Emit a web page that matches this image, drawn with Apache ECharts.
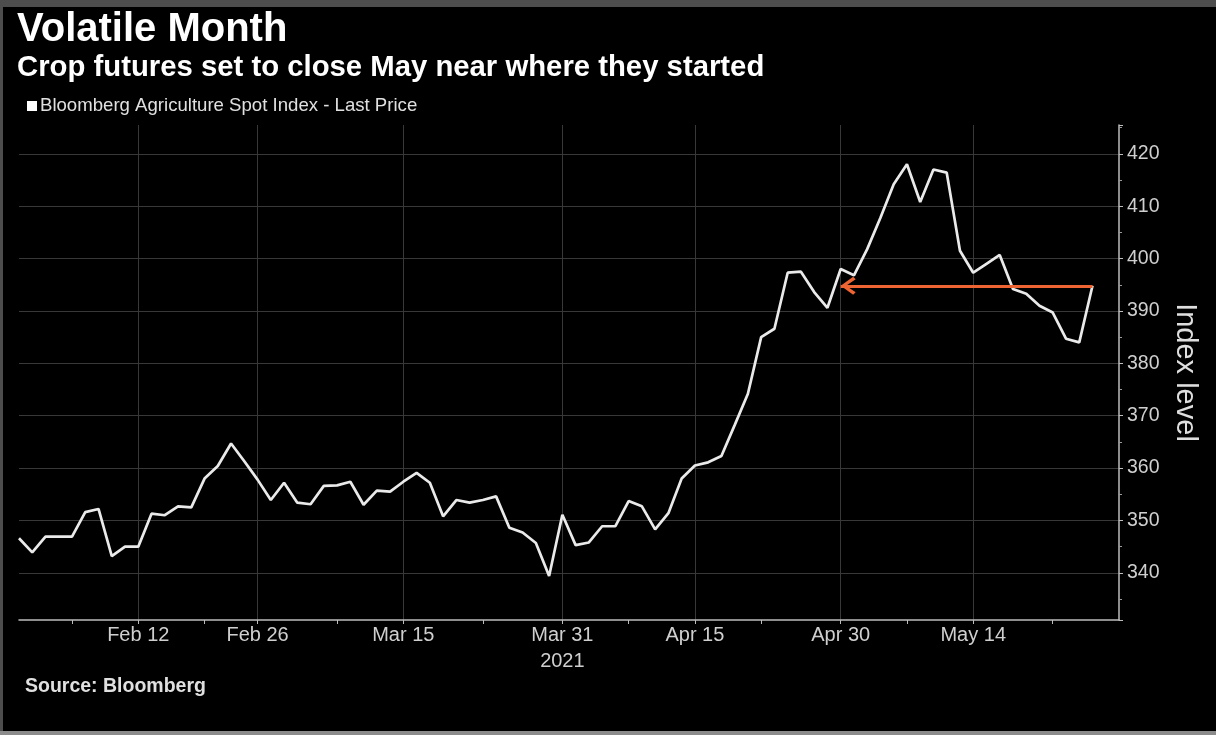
<!DOCTYPE html>
<html>
<head>
<meta charset="utf-8">
<script src="https://cdn.jsdelivr.net/npm/echarts@6/dist/echarts.min.js"></script>
<style>
html,body{margin:0;padding:0;background:#000;}
#chart{width:1216px;height:735px;}
</style>
</head>
<body>
<div id="chart"></div>
<script>
// Trading days Feb 1 – May 27, 2021
var dates = [
 'Feb 1','Feb 2','Feb 3','Feb 4','Feb 5','Feb 8','Feb 9','Feb 10','Feb 11','Feb 12',
 'Feb 16','Feb 17','Feb 18','Feb 19','Feb 22','Feb 23','Feb 24','Feb 25','Feb 26',
 'Mar 1','Mar 2','Mar 3','Mar 4','Mar 5','Mar 8','Mar 9','Mar 10','Mar 11','Mar 12',
 'Mar 15','Mar 16','Mar 17','Mar 18','Mar 19','Mar 22','Mar 23','Mar 24','Mar 25','Mar 26',
 'Mar 29','Mar 30','Mar 31',
 'Apr 1','Apr 5','Apr 6','Apr 7','Apr 8','Apr 9','Apr 12','Apr 13','Apr 14','Apr 15','Apr 16',
 'Apr 19','Apr 20','Apr 21','Apr 22','Apr 23','Apr 26','Apr 27','Apr 28','Apr 29','Apr 30',
 'May 3','May 4','May 5','May 6','May 7','May 10','May 11','May 12','May 13','May 14',
 'May 17','May 18','May 19','May 20','May 21','May 24','May 25','May 26','May 27'
];
// empty trailing days so the axis runs a little past the last value
var paddingDates = ['May 28','Jun 1'];

var indexValues = [
 346.6,343.9,346.9,346.9,346.9,351.6,352.2,343.2,345.0,345.0,
 351.3,351.0,352.7,352.5,358.0,360.4,364.7,361.3,357.8,
 353.9,357.2,353.4,353.1,356.6,356.7,357.4,353.0,355.7,355.5,
 357.4,359.1,357.2,350.8,353.9,353.4,353.9,354.6,348.6,347.7,
 345.7,339.4,351.1,
 345.3,345.8,348.9,348.9,353.7,352.7,348.3,351.4,358.0,360.5,361.1,
 362.3,368.2,374.2,385.0,386.6,397.3,397.5,393.6,390.6,398.0,
 396.8,401.8,407.8,414.2,418.0,410.8,417.0,416.4,401.5,397.3,
 399.0,400.7,394.2,393.3,391.0,389.7,384.7,384.0,394.8
];

var labelDates = ['Feb 12','Feb 26','Mar 15','Mar 31','Apr 15','Apr 30','May 14'];
var minorTickDates = ['Feb 5','Feb 22','Mar 8','Mar 23','Apr 8','Apr 22','May 7','May 24'];
var yearLabel = {date:'Mar 31', text:'2021'};
var arrowFrom = 'May 27';
var arrowTo = 'Apr 30';

var categories = dates.concat(paddingDates);
var seriesData = indexValues.concat(paddingDates.map(function(){return null;}));
var lastValue = indexValues[indexValues.length - 1];

var FONT = 'Liberation Sans';
var chart = echarts.init(document.getElementById('chart'));

var chevron = 'path://M6,0 L6.01,0 L6,0.01 Z M0,18.3 L6,10 L12,18.3 L10.3,20 L6,13.6 L1.7,20 Z';

chart.setOption({
  backgroundColor: '#000',
  animation: false,
  title: {
    text: 'Volatile Month',
    subtext: 'Crop futures set to close May near where they started',
    left: 17, top: 10, itemGap: 3, padding: 0,
    textStyle: {color:'#fff', fontFamily: FONT, fontWeight:700, fontSize:40, lineHeight:40},
    subtextStyle: {color:'#fff', fontFamily: FONT, fontWeight:700, fontSize:29.3, lineHeight:30}
  },
  legend: {
    left: 27, top: 96, padding: 0,
    icon: 'rect', itemWidth: 10, itemHeight: 10, itemGap: 4,
    textStyle: {color:'#e0e0e0', fontFamily: FONT, fontSize:18.6, lineHeight:20, padding:[0,0,0,-2]},
    data: ['Bloomberg Agriculture Spot Index - Last Price']
  },
  grid: {left: 19, right: 97, top: 125, bottom: 115, containLabel: false},
  xAxis: {
    type: 'category',
    data: categories,
    boundaryGap: false,
    axisLine: {lineStyle: {color:'#bdbdbd', width:1.5}},
    axisTick: {
      show: true, length: 4,
      lineStyle: {color:'#bdbdbd', width:1},
      interval: function(i, v){ return labelDates.indexOf(v) >= 0 || minorTickDates.indexOf(v) >= 0; }
    },
    axisLabel: {
      color:'#cfcfcf', fontFamily: FONT, fontSize:20, lineHeight:26, margin:2,
      interval: function(i, v){ return labelDates.indexOf(v) >= 0; },
      formatter: function(v){ return v === yearLabel.date ? v + '\n' + yearLabel.text : v; }
    },
    splitLine: {
      show: true,
      interval: function(i, v){ return labelDates.indexOf(v) >= 0; },
      lineStyle: {color:'#383838', width:1}
    }
  },
  yAxis: {
    type: 'value',
    position: 'right',
    min: 331, max: 425.5,
    splitNumber: 10,
    name: 'Index level',
    nameLocation: 'middle',
    nameRotate: -90,
    nameGap: 43,
    nameTextStyle: {color:'#dedede', fontFamily: FONT, fontSize:29},
    axisLine: {show:true, lineStyle: {color:'#bdbdbd', width:1.5}},
    axisTick: {show:true, length:4, lineStyle:{color:'#bdbdbd'}},
    minorTick: {show:true, splitNumber:2, length:3, lineStyle:{color:'#9a9a9a'}},
    axisLabel: {color:'#cfcfcf', fontFamily: FONT, fontSize:19.5, margin:8, showMinLabel:false, showMaxLabel:false},
    splitLine: {show:true, showMinLine:false, showMaxLine:false, lineStyle:{color:'#383838', width:1}}
  },
  series: [{
    name: 'Bloomberg Agriculture Spot Index - Last Price',
    type: 'line',
    data: seriesData,
    showSymbol: false,
    symbol: 'none',
    connectNulls: false,
    lineStyle: {color:'#eaeaea', width:2.7},
    itemStyle: {color:'#ffffff'},
    markLine: {
      silent: true,
      symbol: ['none', chevron],
      symbolSize: [18, 30],
      label: {show:false},
      lineStyle: {color:'#ee6433', width:3, type:'solid'},
      data: [[{coord:[arrowFrom, lastValue]}, {coord:[arrowTo, lastValue]}]]
    }
  }],
  graphic: [
    {type:'rect', left:0, top:0, shape:{width:1216, height:7}, style:{fill:'#4d4d4d'}, silent:true},
    {type:'rect', left:0, top:0, shape:{width:3, height:735}, style:{fill:'#4d4d4d'}, silent:true},
    {type:'rect', left:0, top:731, shape:{width:1216, height:4}, style:{fill:'#8c8c8c'}, silent:true},
    {type:'text', left:25, top:677, style:{text:'Source: Bloomberg', fill:'#e0e0e0', font:'bold 19.5px "Liberation Sans"'}, silent:true}
  ]
});
</script>
</body>
</html>
